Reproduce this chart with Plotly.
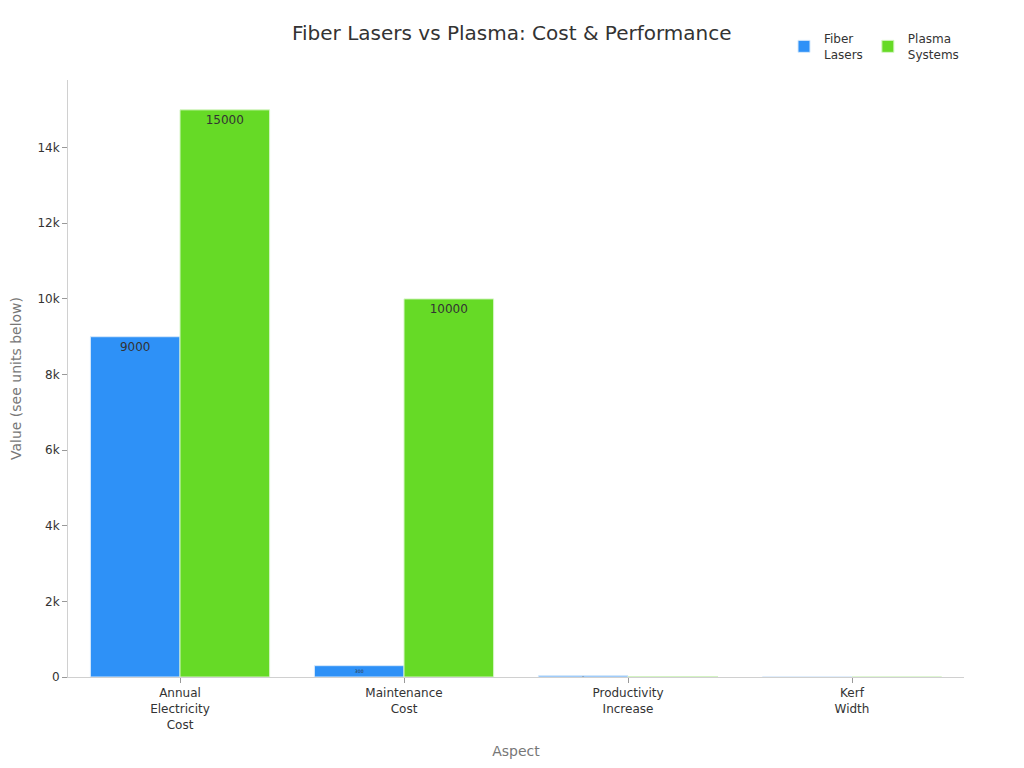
import plotly.graph_objects as go

aspects = ["Annual<br>Electricity<br>Cost", "Maintenance<br>Cost", "Productivity<br>Increase", "Kerf<br>Width"]
fiber = [9000, 300, 30, 0.1]
plasma = [15000, 10000, 10, 1.5]

fig = go.Figure()
fig.add_trace(go.Bar(
    x=aspects, y=fiber, name="Fiber<br>Lasers",
    marker=dict(color="#2E91F7", line=dict(color="#D6E9FB", width=1)),
    text=fiber, textposition="inside", insidetextanchor="end",
    textfont=dict(color="#333333"),
))
fig.add_trace(go.Bar(
    x=aspects, y=plasma, name="Plasma<br>Systems",
    marker=dict(color="#66DA26", line=dict(color="#D6F5C6", width=1)),
    text=plasma, textposition="inside", insidetextanchor="end",
    textfont=dict(color="#333333"),
))

fig.update_layout(
    title=dict(text="Fiber Lasers vs Plasma: Cost & Performance", x=0.492, xanchor="center",
               y=0.976, font=dict(size=20, color="#333333")),
    font=dict(family="DejaVu Sans", size=12, color="#333333"),
    barmode="group",
    bargap=0.2,
    plot_bgcolor="white",
    paper_bgcolor="white",
    width=1024, height=768,
    margin=dict(l=60, r=68, t=72, b=99),
    legend=dict(orientation="h", x=1, xanchor="right", y=1.018, yanchor="bottom",
                font=dict(size=12)),
    xaxis=dict(title=dict(text="Aspect", font=dict(color="#777777", size=14)),
               showline=True, linecolor="#D0D0D0", ticks="outside", tickcolor="#999999",
               showgrid=False, automargin=False),
    yaxis=dict(title=dict(text="Value (see units below)", font=dict(color="#777777", size=14)),
               showline=True, linecolor="#D0D0D0", ticks="outside", tickcolor="#999999",
               tickformat="~s", showgrid=False, zeroline=False, automargin=False),
)

fig.write_html("out.html")
